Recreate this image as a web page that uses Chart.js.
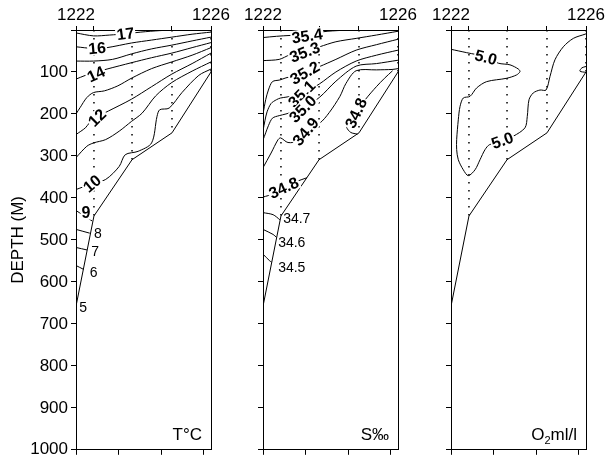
<!DOCTYPE html>
<html>
<head>
<meta charset="utf-8">
<script src="https://cdn.jsdelivr.net/npm/chart.js@4.4.1/dist/chart.umd.min.js"></script>
<style>
    body { margin: 0; background: #fff; width: 609px; height: 463px; position: relative; overflow: hidden; }
    canvas { position: absolute; top: 0; }
</style>
</head>
<body>
<canvas id="tempChart" width="240" height="463" style="left:0px"></canvas>
<canvas id="saltChart" width="195" height="463" style="left:235px"></canvas>
<canvas id="oxyChart" width="186" height="463" style="left:423px"></canvas>
<script>
// Stations along the section (distance in % of section length)
const stationNames = ['1222', '1223', '1224', '1225', '1226'];
const stationDist = [0, 13.3, 41.5, 71.1, 100];
const bottomDepth = [658, 443, 309, 245, 100];
const distTicks = [0, 31.5, 63, 94.5];

// Temperature isotherms [distance, depth]
const t17 = [[0, 7], [13, 14], [25, 12], [37, 9], [48, 5], [62, 1.5], [74, 0]];
const t16 = [[0, 40], [13, 44], [23, 42], [41, 31], [56, 24], [71, 17], [86, 10], [100, 5]];
const t15 = [[0, 74], [13, 74], [27, 70], [41, 57], [56, 45], [71, 36], [86, 26], [100, 17]];
const t14 = [[0, 117], [7, 108], [13, 102], [23, 93], [41, 78], [56, 66], [71, 55], [86, 42], [100, 30]];
const t13 = [[0, 200], [3, 185], [8, 161], [13, 149], [21, 145], [31, 133], [41, 115], [56, 92], [71, 76], [86, 60], [100, 42]];
const t12 = [[0, 249], [7, 233], [10, 221], [16, 206], [24, 193], [41, 165], [56, 135], [71, 105], [86, 80], [100, 55]];
const t11 = [[0, 304], [8, 277], [13, 269], [22, 261], [32, 241], [41, 218], [49, 198], [59, 157], [71, 125], [86, 98], [100, 76]];
const t10 = [[0, 380], [12, 366], [22, 356], [32, 325], [36.5, 297], [46, 289], [56, 269], [60, 206], [62, 190], [69, 186], [78.5, 149], [91, 108], [100, 93]];
const t9 = [[0, 430], [12, 455]];
const t8 = [[0, 475], [10.2, 484]];
const t7 = [[0, 518], [8.2, 524]];
const t6 = [[0, 561], [5.5, 570]];

// Salinity isohalines
const s354 = [[0, 18], [10, 15], [20, 13], [32, 12], [45, 4], [58, 1], [69, 0]];
const s353 = [[0, 73], [12, 70], [20, 59], [30.5, 52], [42, 40], [54, 28], [69, 20], [84, 12], [100, 3]];
const s352 = [[0, 200], [2, 166], [4, 143], [7, 123], [12.5, 119], [17, 114], [31, 102], [42, 87], [54, 70], [69, 48], [84, 35], [100, 22]];
const s351 = [[0, 240], [1.5, 215], [3, 195], [6, 175], [10, 166], [13, 162], [17, 160], [29, 152], [42, 128], [54, 100], [69, 74], [84, 60], [100, 48]];
const s350 = [[0, 262], [2, 245], [4, 228], [7, 210], [12, 204], [17, 200], [29, 188], [42, 160], [54, 122], [69, 86], [84, 80], [100, 72]];
const s349 = [[0, 328], [6, 293], [11, 262], [13, 257], [18.5, 268], [26, 264], [31, 240], [42, 222], [49, 197], [57, 158], [61.5, 127], [69, 97], [84, 95], [95.6, 94], [100, 92]];
const s348a = [[96, 97], [90, 115], [84, 135], [76, 165], [69, 198], [63, 222], [62, 232], [65, 244], [70, 248]];
const s348b = [[0, 398], [8, 390], [15.4, 376], [24, 362], [32.5, 352]];
const s347 = [[0, 435], [7.5, 440], [12.5, 452]];
const s346 = [[0, 475], [7.5, 487], [10, 494]];
const s345 = [[0, 534], [5, 550], [6.4, 553]];

// Oxygen 5.0 ml/l
const o50 = [[0, 46], [11.6, 54], [25.9, 64], [35, 79], [43.7, 83], [49.9, 93], [51.1, 99], [48.6, 107], [41.2, 115], [26.4, 123], [19, 138], [14.1, 158], [9.1, 162], [6.7, 182], [5.4, 214], [4.2, 261], [4.2, 285], [5.4, 309], [9.1, 333], [12.8, 347], [17.8, 333], [21.5, 309], [25.2, 285], [28.6, 273], [38.5, 264], [46.2, 253], [54.8, 233], [56.5, 206], [57.8, 166], [60.9, 150], [65.9, 143], [70.4, 143], [73.3, 111], [77, 71], [83.2, 40], [90.6, 20], [99.3, 10], [100, 9]];
const o50b = [[100, 87], [97, 90], [95.5, 98], [100, 101]];

// Contour label placement
const tempSpots = [
    { text: '17', x: 36.7, d: 9, angle: -8, bold: true },
    { text: '16', x: 15.6, d: 43, angle: -5, bold: true },
    { text: '14', x: 14.8, d: 105, angle: -25, bold: true },
    { text: '12', x: 15.6, d: 209, angle: -45, bold: true },
    { text: '10', x: 11.9, d: 366, angle: -40, bold: true },
    { text: '9', x: 7.4, d: 435, angle: 0, bold: true },
    { text: '8', x: 16.3, d: 483, angle: 0, bold: false },
    { text: '7', x: 14.1, d: 527, angle: 0, bold: false },
    { text: '6', x: 13.1, d: 576, angle: 0, bold: false },
    { text: '5', x: 5.2, d: 661, angle: 0, bold: false }
];
const saltSpots = [
    { text: '35.4', x: 32.7, d: 14, angle: -8, bold: true },
    { text: '35.3', x: 30.9, d: 53, angle: -22, bold: true },
    { text: '35.2', x: 30.9, d: 102, angle: -30, bold: true },
    { text: '35.1', x: 28.7, d: 152, angle: -45, bold: true },
    { text: '35.0', x: 29.4, d: 188, angle: -45, bold: true },
    { text: '34.9', x: 31.6, d: 242, angle: -50, bold: true },
    { text: '34.8', x: 68.9, d: 198, angle: -65, bold: true },
    { text: '34.8', x: 15.4, d: 376, angle: -25, bold: true },
    { text: '34.7', x: 25, d: 449, angle: 0, bold: false },
    { text: '34.6', x: 21.3, d: 506, angle: 0, bold: false },
    { text: '34.5', x: 21.3, d: 565, angle: 0, bold: false }
];
const oxySpots = [
    { text: '5.0', x: 25.9, d: 65, angle: 15, bold: true },
    { text: '5.0', x: 38.1, d: 263, angle: -20, bold: true }
];

const FONT = '"Liberation Sans", Arial, sans-serif';
Chart.defaults.font.family = FONT;
Chart.defaults.color = '#000';

function toPoints(arr) {
    return arr.map(p => ({ x: p[0], y: p[1] }));
}

function lineSet(arr, tension) {
    return {
        data: toPoints(arr),
        showLine: true,
        borderColor: '#000',
        borderWidth: 1,
        pointRadius: 0,
        fill: false,
        tension: tension
    };
}

function makePanel(canvasId, yWidth, padRight, contours, spots, title, showDepth) {
    const datasets = [];

    // station lines down to the bottom
    stationDist.forEach((dist, i) => {
        datasets.push({
            data: [{ x: dist, y: 0 }, { x: dist, y: bottomDepth[i] }],
            showLine: true,
            borderColor: '#000',
            borderWidth: 1.5,
            borderDash: [1.5, 6.5],
            pointRadius: 0
        });
    });

    contours.forEach(c => datasets.push(lineSet(c, 0.3)));

    // sea floor
    datasets.push(lineSet(stationDist.map((d, i) => [d, bottomDepth[i]]), 0));

    const textPlugin = {
        id: 'panelText',
        afterDatasetsDraw(chart) {
            const { ctx, chartArea, scales } = chart;
            spots.forEach(s => {
                const px = scales.x.getPixelForValue(s.x);
                const py = scales.y.getPixelForValue(s.d);
                ctx.save();
                ctx.translate(px, py);
                ctx.rotate(s.angle * Math.PI / 180);
                ctx.font = s.bold ? 'bold 16px ' + FONT : '14px ' + FONT;
                const w = ctx.measureText(s.text).width;
                if (s.bold) {
                    ctx.fillStyle = '#fff';
                    ctx.fillRect(-w / 2 - 1, -7, w + 2, 14);
                }
                ctx.fillStyle = '#000';
                ctx.textAlign = 'center';
                ctx.textBaseline = 'middle';
                ctx.fillText(s.text, 0, 1);
                ctx.restore();
            });

            // panel title, bottom right, with optional subscript parts
            ctx.save();
            ctx.fillStyle = '#000';
            ctx.textBaseline = 'alphabetic';
            ctx.textAlign = 'left';
            let x = chartArea.right - 9;
            const base = chartArea.bottom - 10;
            for (let i = title.length - 1; i >= 0; i--) {
                const part = title[i];
                ctx.font = (part.sub ? '11px ' : '17px ') + FONT;
                const w = ctx.measureText(part.t).width;
                x -= w;
                ctx.fillText(part.t, x, part.sub ? base + 4 : base);
            }
            ctx.restore();
        }
    };

    return new Chart(document.getElementById(canvasId), {
        type: 'scatter',
        data: { datasets: datasets },
        options: {
            responsive: false,
            animation: false,
            devicePixelRatio: 1,
            layout: { padding: { left: 0, right: padRight, top: 0, bottom: 0 } },
            plugins: { legend: { display: false }, tooltip: { enabled: false } },
            scales: {
                x: {
                    type: 'linear',
                    position: 'bottom',
                    min: 0,
                    max: 100,
                    afterFit: s => { s.height = 12; },
                    afterBuildTicks: s => { s.ticks = distTicks.map(v => ({ value: v })); },
                    ticks: { autoSkip: false, maxRotation: 0, callback: () => '' },
                    grid: { drawOnChartArea: false, tickLength: 5, color: '#000' },
                    border: { color: '#000', width: 1 }
                },
                xt: {
                    type: 'linear',
                    position: 'top',
                    min: 0,
                    max: 100,
                    afterFit: s => { s.height = 30; },
                    afterBuildTicks: s => { s.ticks = stationDist.map(v => ({ value: v })); },
                    ticks: {
                        autoSkip: false,
                        maxRotation: 0,
                        padding: 0,
                        font: { size: 17 },
                        callback: (v, i, arr) => (i === 0 || i === arr.length - 1) ? stationNames[i] : ''
                    },
                    grid: { drawOnChartArea: false, tickLength: 4, color: '#000' },
                    border: { color: '#000', width: 1 }
                },
                y: {
                    type: 'linear',
                    reverse: true,
                    min: 0,
                    max: 1000,
                    afterFit: s => { s.width = yWidth; },
                    ticks: {
                        stepSize: 100,
                        autoSkip: false,
                        padding: 3,
                        font: { size: 17 },
                        callback: v => (showDepth && v > 0) ? String(v) : ''
                    },
                    grid: { drawOnChartArea: false, tickLength: 5, color: '#000' },
                    border: { color: '#000', width: 1 },
                    title: {
                        display: showDepth,
                        text: 'DEPTH (M)',
                        font: { size: 17 },
                        padding: { top: 8, bottom: 0 }
                    }
                },
                yr: {
                    type: 'linear',
                    position: 'right',
                    min: 0,
                    max: 1000,
                    afterFit: s => { s.width = 0; },
                    ticks: { display: false },
                    grid: { drawOnChartArea: false, drawTicks: false },
                    border: { color: '#000', width: 1 }
                }
            }
        },
        plugins: [textPlugin]
    });
}

makePanel('tempChart', 76, 29,
    [t17, t16, t15, t14, t13, t12, t11, t10, t9, t8, t7, t6],
    tempSpots, [{ t: 'T°C' }], true);

makePanel('saltChart', 28, 32,
    [s354, s353, s352, s351, s350, s349, s348a, s348b, s347, s346, s345],
    saltSpots, [{ t: 'S‰' }], false);

makePanel('oxyChart', 28, 23,
    [o50, o50b],
    oxySpots, [{ t: 'O' }, { t: '2', sub: true }, { t: 'ml/l' }], false);
</script>
</body>
</html>
